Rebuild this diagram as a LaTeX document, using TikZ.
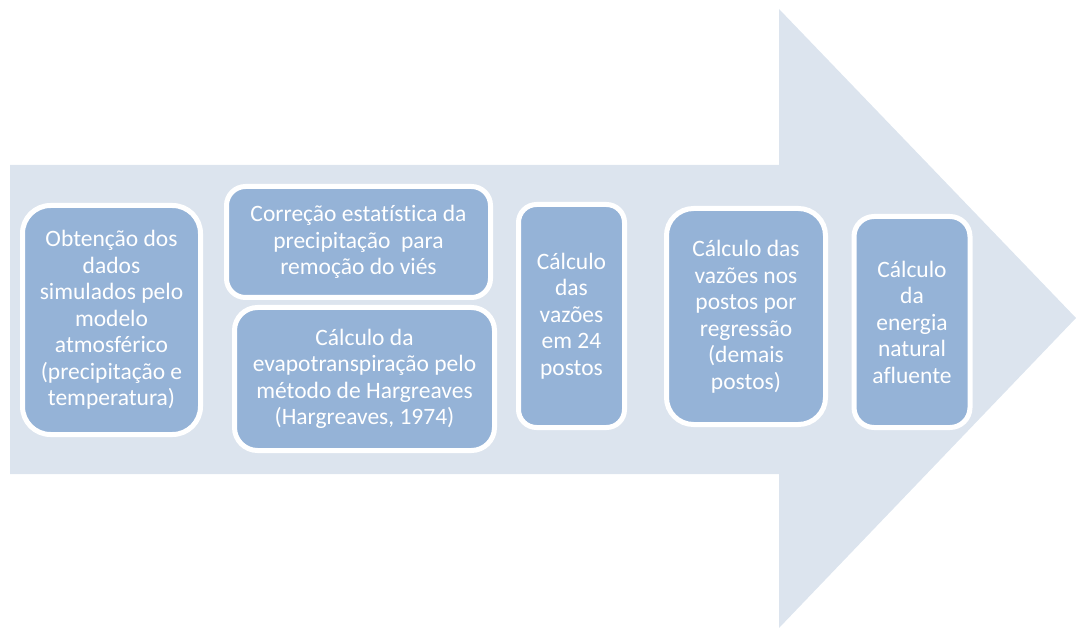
\documentclass[tikz,border=0pt]{standalone}
\usepackage{fontspec}
\setmainfont{Carlito}[Ligatures={NoCommon}]
\definecolor{arrowfill}{RGB}{220,228,238}
\definecolor{boxfill}{RGB}{149,179,215}
\begin{document}
\begin{tikzpicture}[x=1pt,y=-1pt,
  stepbox/.style={draw=white,line width=5pt,fill=boxfill,text=white,
    align=center,inner sep=0pt,outer sep=0pt,
    font=\fontsize{23.5}{26.5}\selectfont}]
\useasboundingbox (0,0) rectangle (1076,628);
\fill[arrowfill] (10,165) -- (779,165) -- (779,9) -- (1076,318) -- (779,628) -- (779,474) -- (10,474) -- cycle;
\node[stepbox,minimum width=178pt,minimum height=229pt,rounded corners=28pt] (b1) at (111.5,320)
  {Obtenção dos\\dados\\simulados pelo\\modelo\\atmosférico\\(precipitação e\\temperatura)};
\node[stepbox,minimum width=264pt,minimum height=111pt,rounded corners=19pt] (b2) at (358.5,242)
  {Correção estatística da\\precipitação\ \ para\\remoção do viés};
\node[stepbox,minimum width=260pt,minimum height=143pt,rounded corners=23pt] (b3) at (364.5,379)
  {Cálculo da\\evapotranspiração pelo\\método de Hargreaves\\(Hargreaves, 1974)};
\node[stepbox,minimum width=106pt,minimum height=223pt,rounded corners=18pt] (b4) at (571.5,316)
  {Cálculo\\das\\vazões\\em 24\\postos};
\node[stepbox,minimum width=159pt,minimum height=216pt,rounded corners=27pt] (b5) at (746,316.5)
  {Cálculo das\\vazões nos\\postos por\\regressão\\(demais\\postos)};
\node[stepbox,minimum width=116pt,minimum height=211pt,rounded corners=20pt] (b6) at (912,322)
  {Cálculo\\da\\energia\\natural\\afluente};
\end{tikzpicture}
\end{document}
